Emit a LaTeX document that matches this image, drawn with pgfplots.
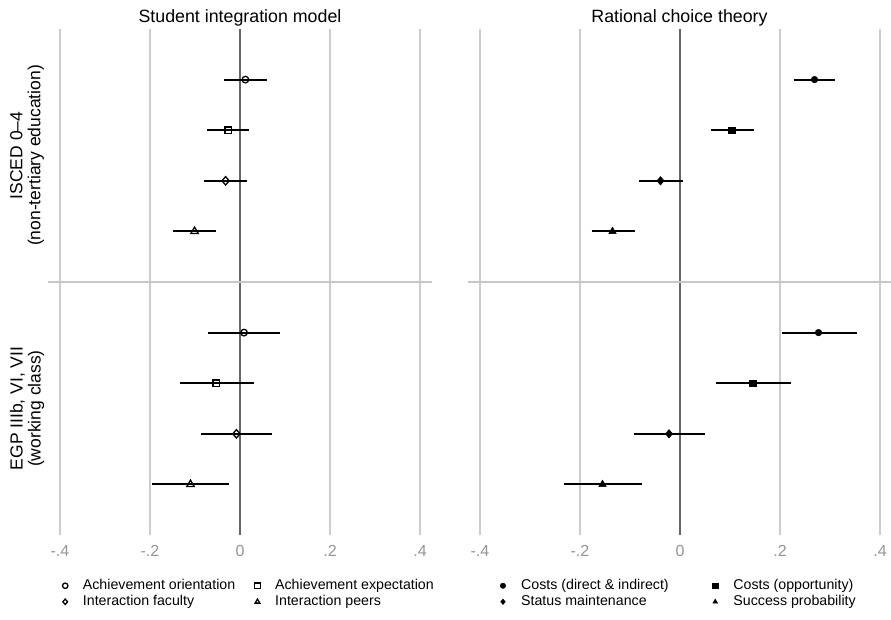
\documentclass[border=0pt]{standalone}
\usepackage{fontspec}
\setmainfont{Liberation Sans}
\usepackage{pgfplots}
\usepackage{pgfplotstable}
\pgfplotsset{compat=1.18}

% point estimates: y = row position, x = estimate
\pgfplotstableread{
y x
9 0.012
4 0.009
}\siAO
\pgfplotstableread{
y x
8 -0.026
3 -0.053
}\siAE
\pgfplotstableread{
y x
7 -0.032
2 -0.008
}\siIF
\pgfplotstableread{
y x
6 -0.101
1 -0.110
}\siIP
\pgfplotstableread{
y x
9 0.269
4 0.277
}\rcCD
\pgfplotstableread{
y x
8 0.104
3 0.145
}\rcCO
\pgfplotstableread{
y x
7 -0.039
2 -0.022
}\rcSM
\pgfplotstableread{
y x
6 -0.135
1 -0.155
}\rcSP
% confidence intervals (lower, upper end of each bar)
\pgfplotstableread{
x y
-0.035 9
0.061 9
nan nan
-0.073 8
0.021 8
nan nan
-0.080 7
0.016 7
nan nan
-0.150 6
-0.053 6
nan nan
-0.071 4
0.089 4
nan nan
-0.133 3
0.030 3
nan nan
-0.086 2
0.071 2
nan nan
-0.196 1
-0.024 1
}\siCI
\pgfplotstableread{
x y
0.227 9
0.310 9
nan nan
0.061 8
0.147 8
nan nan
-0.082 7
0.005 7
nan nan
-0.177 6
-0.091 6
nan nan
0.203 4
0.353 4
nan nan
0.071 3
0.221 3
nan nan
-0.092 2
0.049 2
nan nan
-0.233 1
-0.076 1
}\rcCI

\pgfplotsset{
  panel/.style={
    scale only axis, height=506pt, ymin=0, ymax=10,
    axis line style={draw=none}, ytick=\empty,
    xtick={-0.4,-0.2,0,0.2,0.4}, xticklabels={-.4,-.2,0,.2,.4},
    major tick length=0pt, xmajorgrids, unbounded coords=jump,
    grid style={black!20, line width=1.2pt},
    xticklabel style={text=black!42, font=\fontsize{16}{16}\selectfont, yshift=-7pt},
    title style={font=\fontsize{17.8}{20}\selectfont, anchor=base, at={(0.5,1)}, yshift=0pt},
    legend columns=2, legend cell align=left,
    legend image code/.code={\draw[#1, mark size=2.7pt] plot coordinates {(0pt,0pt)};},
    legend style={draw=none, fill=none, inner sep=0pt, outer sep=0pt,
      font=\fontsize{14.2}{16}\selectfont, row sep=2.5pt,
      nodes={inner sep=0pt, text height=10.5pt, text depth=3pt}},
  },
  cil/.style={black, line width=2pt, forget plot},
  hol/.style={only marks, black, mark size=3.3pt, mark options={line width=1.3pt, draw=black, fill=none}},
  sol/.style={only marks, black, mark size=3.3pt, mark options={line width=0.5pt, draw=black, fill=black}},
  holdia/.style={only marks, black, mark size=4.2pt, mark options={line width=1.3pt, draw=black, fill=none, xscale=1.15}},
  soldia/.style={only marks, black, mark size=4.2pt, mark options={line width=0.5pt, draw=black, fill=black, xscale=1.15}},
}

\begin{document}
\begin{tikzpicture}
\useasboundingbox (0,0) rectangle (891pt,619pt);

\begin{axis}[panel, at={(48pt,84pt)}, anchor=south west, width=384pt,
  xmin=-0.42667, xmax=0.42667, title={Student integration model},
  legend style={at={(0.0378,-0.087)}, anchor=north west,
    /tikz/every odd column/.append style={column sep=15pt},
    /tikz/every even column/.append style={column sep=19.5pt}}]
\addplot[black!60, line width=1.5pt, forget plot] coordinates {(0,0) (0,10)};
\addplot[black!22, line width=1.2pt, forget plot] coordinates {(-0.42667,5) (0.42667,5)};
\addplot[cil] table[x=x, y=y] {\siCI};
\addplot[hol, mark=o] table[x=x, y=y] {\siAO};
\addlegendentry{Achievement orientation}
\addplot[hol, mark=square] table[x=x, y=y] {\siAE};
\addlegendentry{Achievement expectation}
\addplot[holdia, mark=diamond] table[x=x, y=y] {\siIF};
\addlegendentry{Interaction faculty}
\addplot[hol, mark=triangle, mark size=4.3pt] table[x=x, y=y] {\siIP};
\addlegendentry{Interaction peers}
\end{axis}

\begin{axis}[panel, at={(468pt,84pt)}, anchor=south west, width=423pt,
  xmin=-0.424, xmax=0.422, title={Rational choice theory},
  legend style={at={(0.0763,-0.087)}, anchor=north west,
    /tikz/every odd column/.append style={column sep=15.5pt},
    /tikz/every even column/.append style={column sep=43.8pt}}]
\addplot[black!60, line width=1.5pt, forget plot] coordinates {(0,0) (0,10)};
\addplot[black!22, line width=1.2pt, forget plot] coordinates {(-0.424,5) (0.422,5)};
\addplot[cil] table[x=x, y=y] {\rcCI};
\addplot[sol, mark=*] table[x=x, y=y] {\rcCD};
\addlegendentry{Costs (direct \& indirect)}
\addplot[sol, mark=square*] table[x=x, y=y] {\rcCO};
\addlegendentry{Costs (opportunity)}
\addplot[soldia, mark=diamond*] table[x=x, y=y] {\rcSM};
\addlegendentry{Status maintenance}
\addplot[sol, mark=triangle*, mark size=4.3pt] table[x=x, y=y] {\rcSP};
\addlegendentry{Success probability}
\end{axis}

\node[rotate=90, align=center, font=\fontsize{17.5}{18}\selectfont] at (27pt,463.5pt) {ISCED 0--4\\(non-tertiary education)};
\node[rotate=90, align=center, font=\fontsize{17.5}{18}\selectfont] at (27pt,210.5pt) {EGP IIIb, VI, VII\\(working class)};
\end{tikzpicture}
\end{document}
